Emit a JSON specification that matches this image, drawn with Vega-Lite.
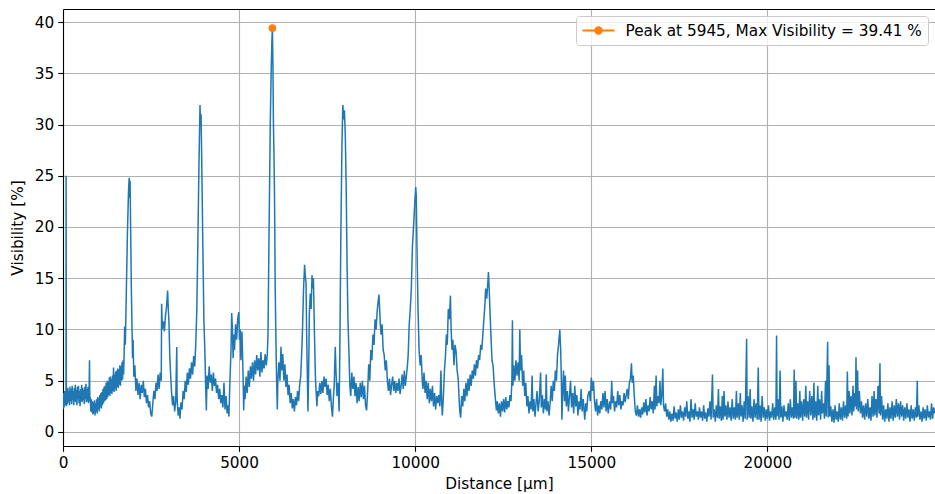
{
"$schema":"https://vega.github.io/schema/vega-lite/v6.json",
"width":872,"height":437,
"autosize":{"type":"none"},
"padding":{"left":63,"top":9,"right":0,"bottom":48},
"background":"white",
"datasets":{
"peak":[{"x":5945,"y":39.41,"label":"Peak at 5945, Max Visibility = 39.41 %"}],
"signal":[
{"x":0,"y":2.2},{"x":15,"y":3.8},{"x":30,"y":2.4},{"x":45,"y":4.0},{"x":60,"y":2.6},{"x":75,"y":3.9},{"x":85,"y":2.8},{"x":88,"y":25.0},{"x":96,"y":2.5},{"x":110,"y":4.1},{"x":125,"y":2.7},{"x":140,"y":4.3},{"x":155,"y":2.9},{"x":170,"y":4.0},{"x":185,"y":2.6},{"x":200,"y":4.4},{"x":215,"y":3.0},{"x":230,"y":4.2},{"x":245,"y":2.7},{"x":260,"y":4.5},{"x":275,"y":3.1},{"x":290,"y":4.0},{"x":305,"y":2.6},{"x":320,"y":4.3},{"x":335,"y":3.0},{"x":350,"y":4.6},{"x":365,"y":2.9},{"x":380,"y":4.1},{"x":395,"y":2.6},{"x":410,"y":4.4},{"x":425,"y":3.2},{"x":440,"y":4.5},{"x":455,"y":2.8},{"x":470,"y":4.0},{"x":485,"y":2.5},{"x":500,"y":4.2},{"x":515,"y":3.0},{"x":530,"y":4.6},{"x":545,"y":2.9},{"x":560,"y":4.3},{"x":575,"y":3.1},{"x":590,"y":4.1},{"x":605,"y":2.7},{"x":620,"y":4.4},{"x":635,"y":3.2},{"x":650,"y":4.7},{"x":665,"y":2.9},{"x":680,"y":4.2},{"x":695,"y":3.0},{"x":710,"y":4.4},{"x":725,"y":2.8},{"x":740,"y":3.9},{"x":753,"y":7.0},{"x":762,"y":3.0},{"x":775,"y":3.4},{"x":790,"y":2.0},{"x":805,"y":3.2},{"x":820,"y":1.9},{"x":835,"y":3.0},{"x":850,"y":1.7},{"x":865,"y":2.9},{"x":880,"y":1.8},{"x":895,"y":3.1},{"x":910,"y":1.6},{"x":925,"y":2.8},{"x":940,"y":2.0},{"x":955,"y":3.2},{"x":970,"y":1.8},{"x":985,"y":3.4},{"x":1000,"y":2.2},{"x":1015,"y":3.3},{"x":1030,"y":2.0},{"x":1045,"y":3.6},{"x":1060,"y":2.4},{"x":1075,"y":3.8},{"x":1090,"y":2.3},{"x":1105,"y":3.9},{"x":1120,"y":2.6},{"x":1135,"y":4.2},{"x":1150,"y":2.8},{"x":1165,"y":4.4},{"x":1180,"y":3.0},{"x":1195,"y":4.5},{"x":1210,"y":3.1},{"x":1225,"y":4.8},{"x":1240,"y":3.2},{"x":1255,"y":5.0},{"x":1270,"y":3.4},{"x":1285,"y":4.9},{"x":1300,"y":3.6},{"x":1315,"y":5.3},{"x":1330,"y":3.5},{"x":1345,"y":5.4},{"x":1360,"y":3.8},{"x":1375,"y":5.2},{"x":1390,"y":3.7},{"x":1405,"y":5.5},{"x":1420,"y":4.0},{"x":1435,"y":6.3},{"x":1450,"y":3.9},{"x":1465,"y":5.6},{"x":1480,"y":4.2},{"x":1495,"y":5.9},{"x":1510,"y":4.0},{"x":1525,"y":6.0},{"x":1540,"y":4.4},{"x":1555,"y":6.2},{"x":1570,"y":4.3},{"x":1585,"y":6.1},{"x":1600,"y":4.6},{"x":1615,"y":6.5},{"x":1630,"y":4.5},{"x":1645,"y":6.4},{"x":1660,"y":5.0},{"x":1675,"y":6.8},{"x":1690,"y":5.1},{"x":1705,"y":7.0},{"x":1720,"y":5.6},{"x":1735,"y":7.5},{"x":1750,"y":10.3},{"x":1770,"y":8.5},{"x":1800,"y":14.0},{"x":1830,"y":19.5},{"x":1860,"y":23.5},{"x":1880,"y":24.8},{"x":1895,"y":22.8},{"x":1905,"y":24.5},{"x":1920,"y":20.0},{"x":1940,"y":14.0},{"x":1960,"y":10.0},{"x":1975,"y":7.2},{"x":1990,"y":9.0},{"x":2010,"y":5.4},{"x":2040,"y":6.5},{"x":2070,"y":4.0},{"x":2100,"y":5.2},{"x":2130,"y":3.6},{"x":2160,"y":4.8},{"x":2190,"y":3.2},{"x":2220,"y":4.6},{"x":2250,"y":3.8},{"x":2280,"y":5.0},{"x":2310,"y":3.4},{"x":2340,"y":4.2},{"x":2370,"y":2.8},{"x":2400,"y":3.6},{"x":2430,"y":2.4},{"x":2460,"y":3.0},{"x":2490,"y":1.8},{"x":2520,"y":1.5},{"x":2550,"y":2.8},{"x":2580,"y":4.0},{"x":2610,"y":3.2},{"x":2640,"y":4.8},{"x":2670,"y":4.0},{"x":2700,"y":5.6},{"x":2730,"y":4.2},{"x":2760,"y":5.8},{"x":2790,"y":5.0},{"x":2800,"y":12.5},{"x":2820,"y":10.0},{"x":2850,"y":10.8},{"x":2880,"y":9.8},{"x":2910,"y":11.4},{"x":2940,"y":12.2},{"x":2970,"y":13.8},{"x":2990,"y":12.0},{"x":3010,"y":10.6},{"x":3030,"y":7.6},{"x":3050,"y":6.0},{"x":3080,"y":4.0},{"x":3110,"y":2.6},{"x":3140,"y":3.5},{"x":3170,"y":2.0},{"x":3200,"y":3.0},{"x":3230,"y":8.3},{"x":3240,"y":3.2},{"x":3270,"y":1.6},{"x":3300,"y":2.4},{"x":3320,"y":1.3},{"x":3350,"y":2.9},{"x":3380,"y":2.2},{"x":3410,"y":4.0},{"x":3440,"y":3.2},{"x":3470,"y":5.0},{"x":3500,"y":3.9},{"x":3530,"y":5.8},{"x":3560,"y":4.6},{"x":3590,"y":6.2},{"x":3620,"y":5.2},{"x":3650,"y":6.8},{"x":3680,"y":5.6},{"x":3710,"y":7.4},{"x":3740,"y":6.4},{"x":3770,"y":8.6},{"x":3800,"y":12.0},{"x":3830,"y":18.7},{"x":3860,"y":26.0},{"x":3890,"y":31.9},{"x":3905,"y":30.0},{"x":3920,"y":31.0},{"x":3945,"y":25.0},{"x":3972,"y":17.7},{"x":4000,"y":11.0},{"x":4030,"y":7.6},{"x":4050,"y":4.5},{"x":4070,"y":2.1},{"x":4090,"y":5.5},{"x":4120,"y":4.2},{"x":4150,"y":6.4},{"x":4180,"y":4.8},{"x":4210,"y":5.6},{"x":4240,"y":4.0},{"x":4270,"y":5.8},{"x":4300,"y":4.5},{"x":4330,"y":5.2},{"x":4360,"y":3.8},{"x":4390,"y":4.6},{"x":4420,"y":3.2},{"x":4450,"y":4.2},{"x":4480,"y":2.8},{"x":4510,"y":3.6},{"x":4540,"y":2.4},{"x":4570,"y":4.8},{"x":4600,"y":2.2},{"x":4630,"y":3.5},{"x":4660,"y":1.8},{"x":4690,"y":2.6},{"x":4710,"y":1.5},{"x":4740,"y":5.0},{"x":4770,"y":8.0},{"x":4790,"y":11.6},{"x":4810,"y":10.0},{"x":4830,"y":7.2},{"x":4850,"y":9.5},{"x":4870,"y":8.0},{"x":4900,"y":10.5},{"x":4930,"y":9.0},{"x":4960,"y":11.0},{"x":4990,"y":11.7},{"x":5010,"y":9.0},{"x":5030,"y":10.0},{"x":5050,"y":7.0},{"x":5080,"y":9.8},{"x":5110,"y":6.0},{"x":5130,"y":2.1},{"x":5150,"y":4.5},{"x":5170,"y":3.2},{"x":5200,"y":5.4},{"x":5230,"y":3.8},{"x":5260,"y":6.0},{"x":5290,"y":4.4},{"x":5320,"y":6.4},{"x":5350,"y":5.2},{"x":5380,"y":6.8},{"x":5410,"y":5.0},{"x":5440,"y":7.0},{"x":5470,"y":5.6},{"x":5500,"y":7.5},{"x":5530,"y":6.0},{"x":5560,"y":7.2},{"x":5590,"y":5.4},{"x":5620,"y":7.8},{"x":5650,"y":5.8},{"x":5680,"y":7.0},{"x":5710,"y":6.2},{"x":5740,"y":7.6},{"x":5770,"y":6.5},{"x":5800,"y":7.5},{"x":5820,"y":9.5},{"x":5848,"y":18.7},{"x":5885,"y":30.1},{"x":5910,"y":35.0},{"x":5930,"y":38.0},{"x":5945,"y":39.41},{"x":5960,"y":36.0},{"x":5975,"y":30.0},{"x":5995,"y":26.0},{"x":6008,"y":22.2},{"x":6025,"y":14.0},{"x":6045,"y":9.0},{"x":6065,"y":5.0},{"x":6085,"y":2.2},{"x":6100,"y":5.0},{"x":6130,"y":6.8},{"x":6160,"y":5.0},{"x":6190,"y":8.3},{"x":6210,"y":6.0},{"x":6240,"y":7.6},{"x":6270,"y":5.0},{"x":6300,"y":6.6},{"x":6330,"y":4.4},{"x":6360,"y":5.6},{"x":6390,"y":3.6},{"x":6420,"y":4.6},{"x":6450,"y":2.8},{"x":6480,"y":3.8},{"x":6510,"y":2.3},{"x":6540,"y":3.2},{"x":6570,"y":2.0},{"x":6600,"y":3.4},{"x":6630,"y":2.6},{"x":6660,"y":4.0},{"x":6690,"y":3.0},{"x":6720,"y":4.6},{"x":6750,"y":5.5},{"x":6780,"y":8.0},{"x":6800,"y":10.0},{"x":6830,"y":14.0},{"x":6860,"y":16.3},{"x":6880,"y":15.2},{"x":6900,"y":14.6},{"x":6920,"y":9.0},{"x":6940,"y":5.0},{"x":6955,"y":2.0},{"x":6975,"y":6.0},{"x":6995,"y":11.6},{"x":7020,"y":13.5},{"x":7045,"y":12.0},{"x":7070,"y":15.3},{"x":7090,"y":14.0},{"x":7110,"y":15.0},{"x":7140,"y":9.5},{"x":7170,"y":5.0},{"x":7210,"y":2.5},{"x":7230,"y":4.0},{"x":7260,"y":3.5},{"x":7290,"y":4.8},{"x":7320,"y":3.7},{"x":7350,"y":5.0},{"x":7380,"y":3.8},{"x":7410,"y":5.4},{"x":7440,"y":4.4},{"x":7470,"y":5.2},{"x":7500,"y":3.6},{"x":7530,"y":4.6},{"x":7560,"y":3.0},{"x":7590,"y":4.2},{"x":7620,"y":2.5},{"x":7650,"y":1.5},{"x":7680,"y":3.5},{"x":7700,"y":4.5},{"x":7730,"y":8.3},{"x":7750,"y":6.0},{"x":7780,"y":3.5},{"x":7810,"y":4.8},{"x":7840,"y":2.0},{"x":7860,"y":8.0},{"x":7890,"y":19.6},{"x":7920,"y":28.0},{"x":7945,"y":31.9},{"x":7970,"y":30.5},{"x":7990,"y":31.4},{"x":8015,"y":29.0},{"x":8040,"y":24.0},{"x":8063,"y":17.0},{"x":8090,"y":11.0},{"x":8120,"y":7.6},{"x":8145,"y":4.5},{"x":8170,"y":3.5},{"x":8200,"y":5.8},{"x":8230,"y":4.2},{"x":8260,"y":5.4},{"x":8290,"y":3.5},{"x":8320,"y":4.8},{"x":8350,"y":2.8},{"x":8380,"y":4.4},{"x":8410,"y":3.0},{"x":8440,"y":4.8},{"x":8470,"y":3.4},{"x":8500,"y":5.0},{"x":8530,"y":3.2},{"x":8560,"y":4.5},{"x":8590,"y":2.6},{"x":8620,"y":2.1},{"x":8650,"y":4.0},{"x":8680,"y":6.6},{"x":8710,"y":5.0},{"x":8740,"y":8.0},{"x":8770,"y":7.0},{"x":8800,"y":9.5},{"x":8830,"y":8.5},{"x":8860,"y":11.0},{"x":8890,"y":10.0},{"x":8920,"y":11.8},{"x":8950,"y":12.8},{"x":8970,"y":13.4},{"x":8990,"y":12.0},{"x":9010,"y":10.5},{"x":9030,"y":9.5},{"x":9060,"y":10.5},{"x":9090,"y":8.0},{"x":9120,"y":7.5},{"x":9150,"y":6.0},{"x":9180,"y":7.0},{"x":9210,"y":5.0},{"x":9240,"y":4.0},{"x":9270,"y":5.2},{"x":9300,"y":3.6},{"x":9330,"y":4.6},{"x":9360,"y":5.4},{"x":9390,"y":4.0},{"x":9420,"y":5.0},{"x":9450,"y":3.8},{"x":9480,"y":4.8},{"x":9510,"y":4.0},{"x":9540,"y":5.2},{"x":9570,"y":3.7},{"x":9600,"y":4.5},{"x":9630,"y":5.6},{"x":9660,"y":4.2},{"x":9690,"y":6.0},{"x":9720,"y":4.5},{"x":9750,"y":5.5},{"x":9780,"y":6.5},{"x":9800,"y":7.5},{"x":9830,"y":10.5},{"x":9860,"y":12.0},{"x":9890,"y":14.0},{"x":9920,"y":18.0},{"x":9960,"y":20.5},{"x":9990,"y":22.5},{"x":10015,"y":23.9},{"x":10030,"y":23.0},{"x":10050,"y":18.0},{"x":10080,"y":12.0},{"x":10110,"y":8.0},{"x":10140,"y":6.5},{"x":10170,"y":7.5},{"x":10200,"y":5.0},{"x":10220,"y":4.2},{"x":10250,"y":5.8},{"x":10280,"y":3.8},{"x":10310,"y":5.0},{"x":10340,"y":3.2},{"x":10370,"y":4.8},{"x":10400,"y":2.8},{"x":10430,"y":4.2},{"x":10460,"y":3.0},{"x":10490,"y":4.5},{"x":10520,"y":2.5},{"x":10550,"y":3.8},{"x":10580,"y":2.2},{"x":10610,"y":3.5},{"x":10640,"y":2.8},{"x":10670,"y":3.6},{"x":10700,"y":2.5},{"x":10730,"y":6.0},{"x":10750,"y":3.0},{"x":10770,"y":1.6},{"x":10800,"y":3.5},{"x":10830,"y":6.0},{"x":10860,"y":7.5},{"x":10885,"y":9.5},{"x":10910,"y":8.5},{"x":10940,"y":12.0},{"x":10970,"y":11.0},{"x":11000,"y":13.3},{"x":11020,"y":10.0},{"x":11045,"y":8.0},{"x":11070,"y":9.0},{"x":11100,"y":6.5},{"x":11130,"y":8.5},{"x":11160,"y":7.9},{"x":11190,"y":6.0},{"x":11220,"y":5.2},{"x":11250,"y":3.0},{"x":11265,"y":2.0},{"x":11290,"y":1.4},{"x":11320,"y":3.5},{"x":11350,"y":2.5},{"x":11380,"y":4.2},{"x":11410,"y":3.0},{"x":11440,"y":4.8},{"x":11470,"y":3.5},{"x":11500,"y":5.2},{"x":11530,"y":4.0},{"x":11560,"y":5.6},{"x":11590,"y":4.5},{"x":11620,"y":6.0},{"x":11650,"y":5.2},{"x":11680,"y":6.6},{"x":11710,"y":5.5},{"x":11740,"y":7.0},{"x":11770,"y":6.2},{"x":11800,"y":7.5},{"x":11830,"y":7.0},{"x":11860,"y":8.5},{"x":11890,"y":8.0},{"x":11920,"y":9.5},{"x":11950,"y":11.0},{"x":11980,"y":12.5},{"x":12000,"y":14.0},{"x":12030,"y":13.0},{"x":12060,"y":14.5},{"x":12080,"y":15.6},{"x":12100,"y":14.0},{"x":12120,"y":12.0},{"x":12150,"y":9.5},{"x":12180,"y":7.0},{"x":12210,"y":6.5},{"x":12240,"y":4.8},{"x":12270,"y":3.5},{"x":12305,"y":2.1},{"x":12330,"y":3.0},{"x":12360,"y":1.8},{"x":12390,"y":2.8},{"x":12420,"y":1.5},{"x":12450,"y":3.0},{"x":12480,"y":2.0},{"x":12510,"y":3.2},{"x":12540,"y":1.9},{"x":12570,"y":3.4},{"x":12600,"y":2.2},{"x":12630,"y":3.0},{"x":12660,"y":2.4},{"x":12690,"y":3.6},{"x":12720,"y":3.0},{"x":12745,"y":5.0},{"x":12760,"y":10.9},{"x":12775,"y":4.5},{"x":12800,"y":6.5},{"x":12830,"y":5.0},{"x":12860,"y":7.0},{"x":12890,"y":5.5},{"x":12920,"y":6.8},{"x":12950,"y":5.0},{"x":12970,"y":10.0},{"x":12990,"y":6.0},{"x":13020,"y":7.5},{"x":13050,"y":4.5},{"x":13080,"y":6.0},{"x":13110,"y":3.5},{"x":13140,"y":4.8},{"x":13170,"y":2.5},{"x":13200,"y":3.5},{"x":13230,"y":1.8},{"x":13260,"y":3.0},{"x":13290,"y":2.2},{"x":13320,"y":5.5},{"x":13340,"y":2.0},{"x":13370,"y":3.2},{"x":13400,"y":1.5},{"x":13430,"y":2.8},{"x":13460,"y":4.0},{"x":13490,"y":2.0},{"x":13520,"y":3.0},{"x":13560,"y":5.8},{"x":13580,"y":2.4},{"x":13610,"y":3.6},{"x":13640,"y":1.8},{"x":13670,"y":3.2},{"x":13700,"y":2.2},{"x":13720,"y":5.6},{"x":13740,"y":2.0},{"x":13770,"y":3.0},{"x":13800,"y":1.6},{"x":13830,"y":2.8},{"x":13860,"y":4.5},{"x":13890,"y":3.0},{"x":13920,"y":5.0},{"x":13950,"y":4.0},{"x":13980,"y":6.0},{"x":14010,"y":5.0},{"x":14040,"y":7.5},{"x":14070,"y":8.5},{"x":14105,"y":10.0},{"x":14130,"y":8.0},{"x":14150,"y":5.0},{"x":14165,"y":1.2},{"x":14190,"y":4.0},{"x":14210,"y":6.0},{"x":14240,"y":3.0},{"x":14260,"y":5.5},{"x":14290,"y":2.5},{"x":14320,"y":4.0},{"x":14350,"y":2.0},{"x":14380,"y":3.5},{"x":14410,"y":5.0},{"x":14440,"y":2.4},{"x":14470,"y":3.8},{"x":14500,"y":1.8},{"x":14530,"y":4.5},{"x":14560,"y":2.5},{"x":14590,"y":3.6},{"x":14620,"y":1.6},{"x":14650,"y":3.0},{"x":14680,"y":2.2},{"x":14710,"y":4.2},{"x":14740,"y":2.0},{"x":14770,"y":3.2},{"x":14815,"y":1.2},{"x":14840,"y":2.8},{"x":14870,"y":2.0},{"x":14900,"y":3.5},{"x":14940,"y":4.0},{"x":14970,"y":3.0},{"x":15000,"y":5.3},{"x":15030,"y":4.0},{"x":15060,"y":5.0},{"x":15090,"y":3.0},{"x":15120,"y":2.0},{"x":15150,"y":3.2},{"x":15180,"y":1.6},{"x":15210,"y":2.6},{"x":15240,"y":1.8},{"x":15270,"y":3.0},{"x":15300,"y":2.2},{"x":15330,"y":3.8},{"x":15360,"y":2.4},{"x":15390,"y":4.0},{"x":15420,"y":2.0},{"x":15450,"y":3.2},{"x":15480,"y":1.8},{"x":15520,"y":3.0},{"x":15550,"y":2.2},{"x":15580,"y":5.0},{"x":15600,"y":2.8},{"x":15630,"y":3.5},{"x":15660,"y":2.0},{"x":15690,"y":3.0},{"x":15720,"y":2.4},{"x":15750,"y":4.0},{"x":15780,"y":2.6},{"x":15810,"y":3.6},{"x":15840,"y":2.2},{"x":15870,"y":3.0},{"x":15900,"y":2.6},{"x":15930,"y":3.8},{"x":15960,"y":2.9},{"x":15990,"y":3.6},{"x":16020,"y":4.2},{"x":16050,"y":3.2},{"x":16080,"y":4.8},{"x":16110,"y":5.2},{"x":16140,"y":6.7},{"x":16160,"y":4.8},{"x":16190,"y":5.5},{"x":16220,"y":3.5},{"x":16250,"y":2.0},{"x":16280,"y":1.6},{"x":16310,"y":2.6},{"x":16340,"y":1.5},{"x":16370,"y":2.2},{"x":16400,"y":1.4},{"x":16430,"y":2.4},{"x":16460,"y":1.7},{"x":16490,"y":2.9},{"x":16520,"y":1.9},{"x":16550,"y":3.2},{"x":16580,"y":1.6},{"x":16610,"y":2.6},{"x":16640,"y":2.0},{"x":16670,"y":3.4},{"x":16700,"y":2.2},{"x":16730,"y":3.0},{"x":16760,"y":1.8},{"x":16790,"y":4.5},{"x":16810,"y":2.2},{"x":16840,"y":5.5},{"x":16860,"y":2.5},{"x":16890,"y":3.5},{"x":16920,"y":2.8},{"x":16950,"y":5.0},{"x":16970,"y":2.6},{"x":17000,"y":3.5},{"x":17030,"y":6.2},{"x":17050,"y":2.6},{"x":17080,"y":2.0},{"x":17110,"y":2.8},{"x":17140,"y":1.5},{"x":17170,"y":2.2},{"x":17200,"y":1.2},{"x":17230,"y":2.0},{"x":17260,"y":1.0},{"x":17290,"y":1.8},{"x":17320,"y":1.1},{"x":17350,"y":2.5},{"x":17380,"y":1.3},{"x":17410,"y":1.9},{"x":17440,"y":1.0},{"x":17470,"y":2.2},{"x":17500,"y":1.2},{"x":17530,"y":2.6},{"x":17560,"y":1.4},{"x":17590,"y":2.0},{"x":17620,"y":1.1},{"x":17650,"y":2.4},{"x":17680,"y":1.5},{"x":17710,"y":3.0},{"x":17740,"y":1.3},{"x":17770,"y":2.0},{"x":17800,"y":1.0},{"x":17830,"y":3.2},{"x":17860,"y":1.4},{"x":17890,"y":2.2},{"x":17920,"y":1.2},{"x":17950,"y":2.8},{"x":17980,"y":1.5},{"x":18010,"y":2.0},{"x":18040,"y":1.2},{"x":18070,"y":2.4},{"x":18100,"y":1.4},{"x":18130,"y":2.0},{"x":18160,"y":1.1},{"x":18190,"y":2.6},{"x":18220,"y":1.3},{"x":18250,"y":1.9},{"x":18280,"y":1.0},{"x":18310,"y":2.3},{"x":18340,"y":1.5},{"x":18370,"y":3.0},{"x":18400,"y":1.2},{"x":18440,"y":5.6},{"x":18460,"y":1.4},{"x":18490,"y":2.2},{"x":18520,"y":1.0},{"x":18550,"y":2.6},{"x":18580,"y":1.4},{"x":18610,"y":4.2},{"x":18630,"y":1.3},{"x":18660,"y":2.5},{"x":18690,"y":1.1},{"x":18720,"y":3.5},{"x":18740,"y":1.2},{"x":18770,"y":4.0},{"x":18790,"y":1.5},{"x":18820,"y":2.6},{"x":18850,"y":1.2},{"x":18880,"y":3.0},{"x":18910,"y":1.4},{"x":18940,"y":2.4},{"x":18970,"y":1.1},{"x":19000,"y":3.2},{"x":19030,"y":1.3},{"x":19060,"y":2.4},{"x":19090,"y":1.2},{"x":19120,"y":4.0},{"x":19140,"y":1.4},{"x":19170,"y":2.8},{"x":19200,"y":1.2},{"x":19230,"y":3.8},{"x":19250,"y":1.5},{"x":19280,"y":2.6},{"x":19310,"y":1.0},{"x":19340,"y":3.0},{"x":19370,"y":1.3},{"x":19410,"y":9.1},{"x":19425,"y":1.2},{"x":19450,"y":3.5},{"x":19480,"y":1.4},{"x":19510,"y":4.2},{"x":19530,"y":1.3},{"x":19560,"y":2.5},{"x":19590,"y":1.0},{"x":19620,"y":3.2},{"x":19650,"y":1.4},{"x":19680,"y":2.8},{"x":19710,"y":1.2},{"x":19740,"y":6.3},{"x":19760,"y":1.2},{"x":19790,"y":2.6},{"x":19820,"y":1.0},{"x":19850,"y":3.5},{"x":19880,"y":1.4},{"x":19910,"y":2.4},{"x":19940,"y":1.1},{"x":19970,"y":2.2},{"x":20000,"y":1.3},{"x":20030,"y":2.6},{"x":20060,"y":1.1},{"x":20090,"y":2.0},{"x":20120,"y":1.4},{"x":20150,"y":2.8},{"x":20180,"y":1.2},{"x":20210,"y":2.4},{"x":20240,"y":1.2},{"x":20260,"y":9.4},{"x":20275,"y":1.5},{"x":20300,"y":3.2},{"x":20330,"y":1.2},{"x":20360,"y":6.0},{"x":20380,"y":1.4},{"x":20410,"y":2.5},{"x":20440,"y":1.0},{"x":20470,"y":2.6},{"x":20500,"y":1.5},{"x":20530,"y":2.0},{"x":20560,"y":1.2},{"x":20590,"y":2.8},{"x":20620,"y":1.1},{"x":20650,"y":3.2},{"x":20680,"y":1.4},{"x":20710,"y":2.4},{"x":20740,"y":1.3},{"x":20760,"y":6.1},{"x":20780,"y":1.4},{"x":20810,"y":5.0},{"x":20830,"y":1.3},{"x":20860,"y":2.8},{"x":20890,"y":1.2},{"x":20920,"y":4.0},{"x":20940,"y":1.4},{"x":20970,"y":3.0},{"x":21000,"y":1.1},{"x":21030,"y":3.2},{"x":21060,"y":1.5},{"x":21090,"y":4.5},{"x":21110,"y":1.4},{"x":21140,"y":3.0},{"x":21170,"y":1.2},{"x":21200,"y":4.0},{"x":21230,"y":1.6},{"x":21260,"y":3.5},{"x":21290,"y":1.2},{"x":21320,"y":4.8},{"x":21340,"y":1.4},{"x":21370,"y":3.0},{"x":21400,"y":1.1},{"x":21430,"y":4.5},{"x":21450,"y":1.6},{"x":21480,"y":3.2},{"x":21510,"y":1.2},{"x":21540,"y":4.0},{"x":21560,"y":1.8},{"x":21590,"y":2.8},{"x":21620,"y":1.3},{"x":21650,"y":5.0},{"x":21670,"y":1.5},{"x":21710,"y":8.8},{"x":21725,"y":1.4},{"x":21750,"y":6.5},{"x":21770,"y":1.5},{"x":21800,"y":2.5},{"x":21830,"y":1.0},{"x":21860,"y":2.2},{"x":21890,"y":0.9},{"x":21920,"y":2.6},{"x":21950,"y":1.2},{"x":21980,"y":2.0},{"x":22010,"y":1.0},{"x":22040,"y":2.8},{"x":22070,"y":1.2},{"x":22100,"y":2.4},{"x":22130,"y":1.1},{"x":22160,"y":3.0},{"x":22190,"y":1.4},{"x":22220,"y":2.6},{"x":22250,"y":1.3},{"x":22270,"y":5.9},{"x":22290,"y":1.5},{"x":22320,"y":4.0},{"x":22340,"y":1.8},{"x":22370,"y":3.5},{"x":22400,"y":1.6},{"x":22430,"y":4.5},{"x":22450,"y":2.0},{"x":22480,"y":3.8},{"x":22500,"y":2.5},{"x":22515,"y":7.3},{"x":22530,"y":2.2},{"x":22560,"y":6.0},{"x":22580,"y":2.0},{"x":22610,"y":4.0},{"x":22640,"y":1.8},{"x":22670,"y":3.0},{"x":22700,"y":1.4},{"x":22730,"y":2.6},{"x":22760,"y":1.2},{"x":22790,"y":2.8},{"x":22820,"y":1.5},{"x":22850,"y":3.2},{"x":22880,"y":1.3},{"x":22910,"y":2.4},{"x":22940,"y":1.1},{"x":22970,"y":3.5},{"x":23000,"y":1.5},{"x":23030,"y":4.0},{"x":23050,"y":1.6},{"x":23080,"y":3.2},{"x":23110,"y":1.4},{"x":23140,"y":4.5},{"x":23170,"y":1.8},{"x":23195,"y":6.7},{"x":23210,"y":1.6},{"x":23240,"y":3.5},{"x":23270,"y":1.2},{"x":23300,"y":2.6},{"x":23330,"y":1.0},{"x":23360,"y":2.2},{"x":23390,"y":1.3},{"x":23420,"y":2.8},{"x":23450,"y":1.0},{"x":23480,"y":2.4},{"x":23510,"y":1.3},{"x":23540,"y":3.0},{"x":23570,"y":1.1},{"x":23600,"y":2.6},{"x":23630,"y":1.4},{"x":23660,"y":3.2},{"x":23690,"y":1.5},{"x":23720,"y":2.8},{"x":23750,"y":1.2},{"x":23780,"y":3.0},{"x":23810,"y":1.5},{"x":23840,"y":2.6},{"x":23870,"y":1.1},{"x":23900,"y":2.4},{"x":23930,"y":1.3},{"x":23960,"y":2.8},{"x":23990,"y":1.4},{"x":24020,"y":2.2},{"x":24050,"y":1.0},{"x":24080,"y":2.6},{"x":24110,"y":1.3},{"x":24140,"y":2.2},{"x":24170,"y":1.1},{"x":24200,"y":2.4},{"x":24230,"y":1.4},{"x":24255,"y":5.0},{"x":24270,"y":1.5},{"x":24300,"y":2.6},{"x":24330,"y":1.2},{"x":24360,"y":2.0},{"x":24390,"y":1.0},{"x":24420,"y":2.4},{"x":24450,"y":1.3},{"x":24480,"y":2.2},{"x":24510,"y":1.1},{"x":24540,"y":2.6},{"x":24570,"y":1.4},{"x":24600,"y":2.0},{"x":24630,"y":1.2},{"x":24660,"y":2.8},{"x":24690,"y":1.3},{"x":24720,"y":2.4},{"x":24760,"y":1.8}
]},
"layer":[
{"data":{"name":"signal"},
 "mark":{"type":"line","color":"#1f77b4","strokeWidth":1.5,"clip":true},
 "encoding":{
  "x":{"field":"x","type":"quantitative","scale":{"domain":[0,24758],"nice":false,"zero":false},
       "axis":{"values":[0,5000,10000,15000,20000],"format":"d","title":"Distance [μm]"}},
  "y":{"field":"y","type":"quantitative","scale":{"domain":[-1.37,41.27],"nice":false,"zero":false},
       "axis":{"values":[0,5,10,15,20,25,30,35,40],"format":"d","title":"Visibility [%]"}}
 }},
{"data":{"name":"peak"},
 "mark":{"type":"point","filled":true,"size":60,"opacity":1},
 "encoding":{
  "x":{"field":"x","type":"quantitative","axis":{"orient":"top","labels":false,"ticks":false,"grid":false,"title":null,"domain":true}},
  "y":{"field":"y","type":"quantitative"},
  "color":{"field":"label","type":"nominal","scale":{"range":["#ff7f0e"]},
   "legend":{"title":null,"orient":"none","legendX":513,"legendY":7,
    "symbolType":"M-1,0H3M0.6,0A0.4,0.4,0,1,1,1.4,0A0.4,0.4,0,1,1,0.6,0",
    "symbolSize":256,"symbolStrokeWidth":2,"symbolStrokeColor":"#ff7f0e","symbolFillColor":"#ff7f0e",
    "labelFontSize":15.3,"labelFont":"DejaVu Sans","labelColor":"#000","labelOffset":26,"labelLimit":0,
    "padding":5.5,"strokeColor":"#cccccc","cornerRadius":3,"fillColor":"rgba(255,255,255,0.8)"}}
 }}
],
"resolve":{"axis":{"x":"independent"}},
"config":{
 "font":"DejaVu Sans",
 "view":{"stroke":null},
 "axis":{"labelFont":"DejaVu Sans","labelFontSize":15.3,"titleFont":"DejaVu Sans","titleFontSize":15.3,"titleFontWeight":"normal",
  "labelColor":"#000","titleColor":"#000","domainColor":"#000","domainWidth":1.1,"tickColor":"#000","tickWidth":1.1,"tickSize":5.3,
  "labelPadding":4,"gridColor":"#b0b0b0","gridWidth":1.1,"gridOpacity":1,"labelOverlap":false,"labelFlush":false},
 "axisX":{"titlePadding":6},
 "axisY":{"titlePadding":9}
}
}
